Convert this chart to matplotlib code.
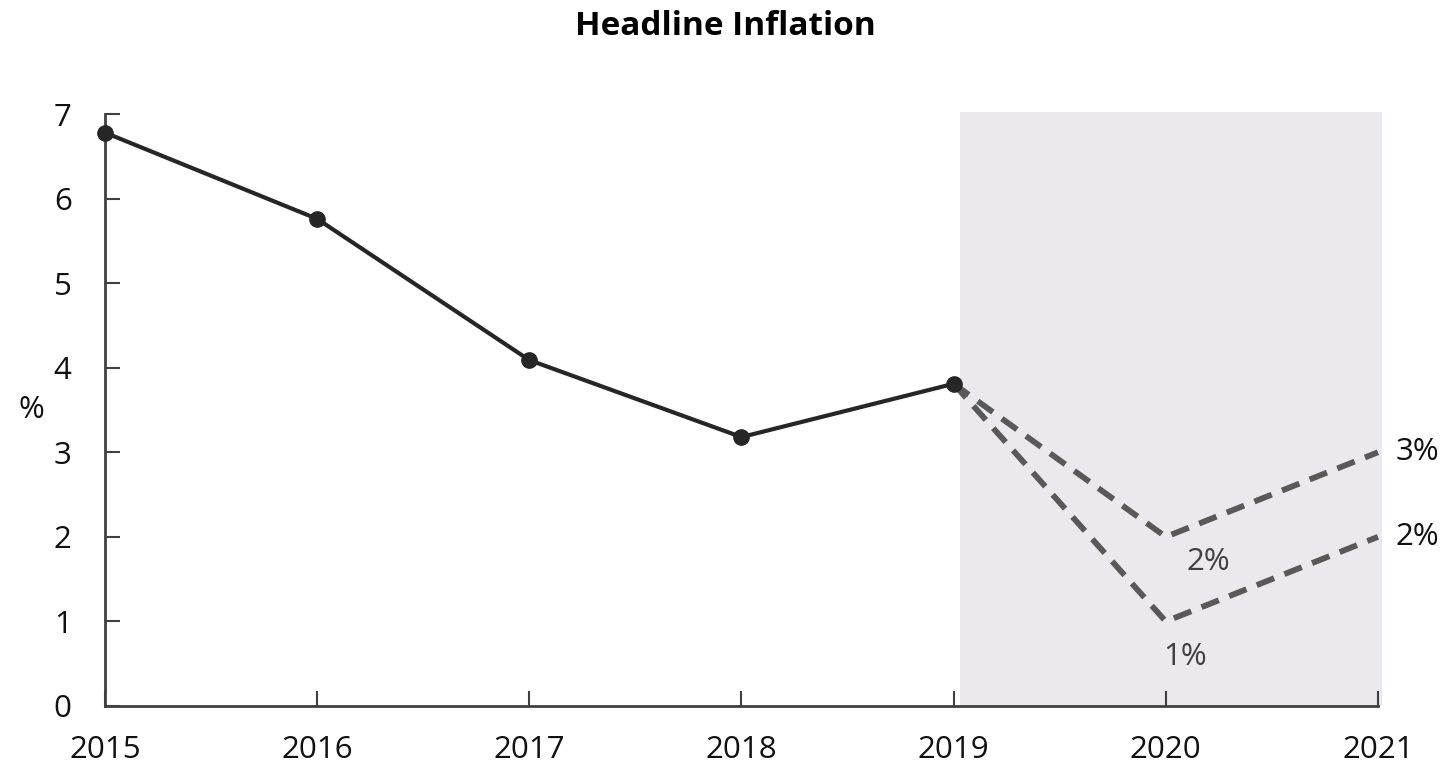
import matplotlib
matplotlib.use("Agg")
import matplotlib.pyplot as plt

# Headline inflation, actual and two forecast scenarios
years = [2015, 2016, 2017, 2018, 2019]
inflation = [6.78, 5.76, 4.09, 3.18, 3.81]

forecast_years = [2019, 2020, 2021]
scenario_high = [3.81, 2.0, 3.0]
scenario_low = [3.81, 1.0, 2.0]

x_ticks = [2015, 2016, 2017, 2018, 2019, 2020, 2021]
y_ticks = [0, 1, 2, 3, 4, 5, 6, 7]

forecast_start = 2019.03
forecast_end = 2021.02

plt.rcParams['font.family'] = ['Open Sans', 'DejaVu Sans']

fig = plt.figure(figsize=(14.5, 7.73), dpi=100)
ax = fig.add_axes([0.0724, 0.0867, 0.8779, 0.7658])

ax.axvspan(forecast_start, forecast_end, ymin=0, ymax=1.003, color='#ebe9ed',
           zorder=0, lw=0, clip_on=False)

ax.plot(forecast_years, scenario_high, ls=(0, (3.2, 1.9)), color='#595959', lw=4.2,
        zorder=2, clip_on=False)
ax.plot(forecast_years, scenario_low, ls=(0, (3.2, 1.9)), color='#595959', lw=4.2,
        zorder=2, clip_on=False)
ax.plot(years, inflation, color='#262626', lw=3, marker='o', ms=11,
        zorder=3, clip_on=False)

# scenario labels
fs = 22.5
lab_kw = dict(fontsize=fs, va='center')
ax.text(2021 + 0.085, scenario_high[2], f"{scenario_high[2]:.0f}%", ha='left', color='#111111', **lab_kw)
ax.text(2021 + 0.085, scenario_low[2], f"{scenario_low[2]:.0f}%", ha='left', color='#111111', **lab_kw)
ax.text(2020 + 0.2, scenario_high[1] - 0.30, f"{scenario_high[1]:.0f}%", ha='center', color='#404040', **lab_kw)
ax.text(2020 + 0.09, scenario_low[1] - 0.42, f"{scenario_low[1]:.0f}%", ha='center', color='#404040', **lab_kw)

ax.set_xlim(2015, 2021)
ax.set_ylim(0, 7)
ax.set_xticks(x_ticks)
ax.set_yticks(y_ticks)
ax.set_xticklabels([str(t) for t in x_ticks])
ax.tick_params(axis='both', direction='in', length=11, width=1.5, color='#404040',
               labelsize=fs, labelcolor='#111111')
ax.tick_params(axis='x', pad=21)
ax.tick_params(axis='y', pad=24)

for side in ['top', 'right']:
    ax.spines[side].set_visible(False)
for side in ['left', 'bottom']:
    ax.spines[side].set_color('#404040')
    ax.spines[side].set_linewidth(2)

ax.set_ylabel('%', rotation=0, fontsize=fs, color='#111111', labelpad=0, va='center')
ax.yaxis.set_label_coords(-0.058, 0.5)

fig.text(0.5, 1 - 35 / 773, 'Headline Inflation', fontsize=24, fontweight='bold',
         ha='center', va='baseline', color='#000000')

fig.savefig('out.png', dpi=100)
